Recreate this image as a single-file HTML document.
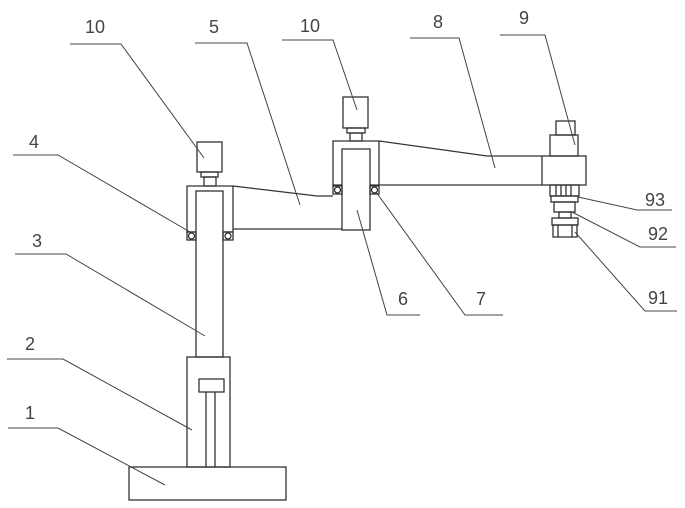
<!DOCTYPE html>
<html><head><style>
html,body{margin:0;padding:0;background:#fff;}
svg{display:block;}
text{font-family:"Liberation Sans",sans-serif;font-size:18px;fill:#444;}
</style></head><body>
<svg width="685" height="508" viewBox="0 0 685 508" xmlns="http://www.w3.org/2000/svg">
<g fill="none" stroke="#333" stroke-width="1.3">
<!-- base -->
<rect x="129" y="467" width="157" height="33"/>
<rect x="187" y="357" width="43" height="110"/>
<rect x="199" y="379" width="25" height="13"/>
<line x1="206" y1="392" x2="206" y2="467"/>
<line x1="215" y1="392" x2="215" y2="467"/>
<!-- column 3 -->
<rect x="196" y="191" width="27" height="166"/>
<!-- left bracket -->
<path d="M196,232 H187 V186 H233 V232 H223"/>
<!-- left motor -->
<rect x="197" y="142" width="25" height="30"/>
<rect x="201" y="172" width="17" height="5"/>
<rect x="204" y="177" width="12" height="9"/>
<!-- bearings left -->
<rect x="187" y="232" width="9" height="8"/><circle cx="191.5" cy="236" r="3"/>
<rect x="223" y="232" width="10" height="8"/><circle cx="228" cy="236" r="3"/>
<!-- arm 5 -->
<path d="M233,186 L317,196 H333"/>
<line x1="233" y1="229" x2="342" y2="229"/>
<!-- column 6 -->
<rect x="342" y="149" width="28" height="81"/>
<!-- right bracket -->
<path d="M342,185 H333 V141 H379 V185 H370"/>
<rect x="333" y="186" width="9" height="8"/><circle cx="337.5" cy="190" r="3"/>
<rect x="370" y="186" width="9" height="8"/><circle cx="374.5" cy="190" r="3"/>
<!-- right motor 10 -->
<rect x="343" y="97" width="25" height="31"/>
<rect x="347" y="128" width="18" height="5"/>
<rect x="350" y="133" width="12" height="8"/>
<!-- arm 8 -->
<path d="M379,141 L487,156 H542"/>
<line x1="379" y1="185" x2="542" y2="185"/>
<rect x="542" y="156" width="44" height="29"/>
<!-- motor 9 -->
<rect x="550" y="135" width="28" height="21"/>
<rect x="556" y="121" width="19" height="14"/>
<!-- 93 -->
<rect x="550" y="185" width="29" height="11"/>
<line x1="556" y1="185" x2="556" y2="196"/><line x1="561" y1="185" x2="561" y2="196"/>
<line x1="566" y1="185" x2="566" y2="196"/><line x1="571" y1="185" x2="571" y2="196"/>
<rect x="551" y="196" width="27" height="6"/>
<rect x="554" y="202" width="21" height="10"/>
<rect x="559" y="212" width="12" height="6"/>
<rect x="552" y="218" width="26" height="7"/>
<rect x="553" y="225" width="24" height="12"/>
<line x1="558" y1="225" x2="558" y2="237"/><line x1="572" y1="225" x2="572" y2="237"/>
</g>
<!-- leaders -->
<g fill="none" stroke="#444" stroke-width="1">
<polyline points="70,44 121,44 204,158"/>
<polyline points="195,43 247,43 300,205"/>
<polyline points="282,40 333,40 357,110"/>
<polyline points="410,38 459,38 495,168"/>
<polyline points="500,35 545,35 575,145"/>
<polyline points="13,155 58,155 190,232"/>
<polyline points="15,254 66,254 205,336"/>
<polyline points="7,359 63,359 192,430"/>
<polyline points="8,428 58,428 165,485"/>
<polyline points="357,210 387,315 420,315"/>
<polyline points="376,192 465,315 503,315"/>
<polyline points="578,197 637,210 672,210"/>
<polyline points="572,212 640,247 676,247"/>
<polyline points="575,232 645,311 677,311"/>
</g>
<text x="85" y="33">10</text>
<text x="209" y="33">5</text>
<text x="300" y="32">10</text>
<text x="433" y="28">8</text>
<text x="519" y="24">9</text>
<text x="29" y="148">4</text>
<text x="32" y="247">3</text>
<text x="25" y="350">2</text>
<text x="25" y="419">1</text>
<text x="398" y="305">6</text>
<text x="476" y="305">7</text>
<text x="645" y="206">93</text>
<text x="648" y="240">92</text>
<text x="648" y="304">91</text>
</svg>
</body></html>
